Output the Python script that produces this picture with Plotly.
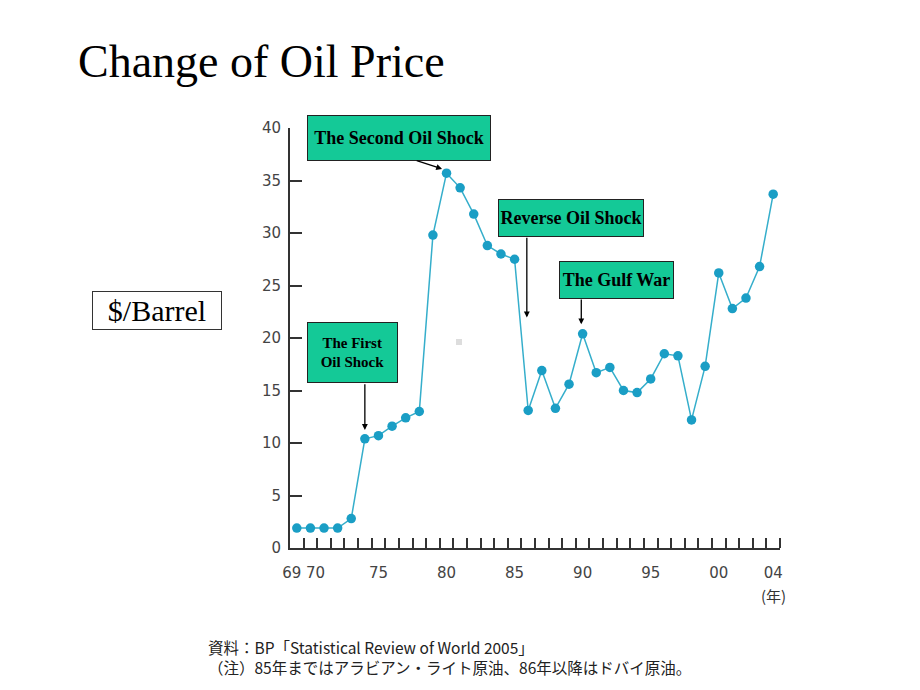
import plotly.graph_objects as go

# ---------------- data ----------------
years = list(range(1969, 2005))
prices = [1.9, 1.9, 1.9, 1.9, 2.8, 10.4, 10.7, 11.6, 12.4, 13.0,
          29.8, 35.7, 34.3, 31.8, 28.8, 28.0, 27.5, 13.1, 16.9, 13.3,
          15.6, 20.4, 16.7, 17.2, 15.0, 14.8, 16.1, 18.5, 18.3, 12.2,
          17.3, 26.2, 22.8, 23.8, 26.8, 33.7]

# "69" and "70" share one label between the two years, as in the source
x_tick_pos = [1969.5, 1975, 1980, 1985, 1990, 1995, 2000, 2004]
x_tick_labels = ["69 70", "75", "80", "85", "90", "95", "00", "04"]
y_tick_values = [0, 5, 10, 15, 20, 25, 30, 35, 40]

event_labels = ["The First<br>Oil Shock", "The Second Oil Shock",
                "Reverse Oil Shock", "The Gulf War"]
event_years = [1974, 1980, 1986, 1990]

title_text = "Change of Oil Price"
unit_text = "$/Barrel"
year_unit = "(年)"
source_lines = ["資料：BP「Statistical Review of World 2005」",
                "（注）85年まではアラビアン・ライト原油、86年以降はドバイ原油。"]

# ---------------- layout helpers ----------------
W, H = 920, 690
OFF = 8                            # page body margin
L, R, T, B = 290, 780, 128, 548    # plot area in reference pixels


def px(x):
    return (x - L) / (R - L)


def py(y):
    return (B - y) / (B - T)


LINE_COLOR = "#35AECB"
MARK_COLOR = "#1A9EC5"
BOX_COLOR = "#14C997"

fig = go.Figure()
fig.add_trace(go.Scatter(
    x=years, y=prices, mode="lines+markers",
    line=dict(color=LINE_COLOR, width=1.5),
    marker=dict(color=MARK_COLOR, size=9.5, line=dict(width=0)),
    hoverinfo="x+y", showlegend=False,
))

annotations = []

# event boxes (pixel geometry: center x, center y, width, height, font size)
box_geom = [(352.5, 352.5, 91, 61, 15),
            (399, 138, 184, 46, 18),
            (571, 218, 146, 38, 18),
            (616.5, 280, 115, 38, 18)]
for label, (cx, cy, bw, bh, fs) in zip(event_labels, box_geom):
    annotations.append(dict(
        xref="paper", yref="paper", x=px(cx), y=py(cy),
        xanchor="center", yanchor="middle", showarrow=False,
        text="<b>" + label + "</b>",
        font=dict(family="Liberation Serif", size=fs, color="black"),
        bgcolor=BOX_COLOR, bordercolor="#222", borderwidth=1, borderpad=0,
        width=bw - 2, height=bh - 2, align="center", valign="middle",
    ))

# arrows: (head dx from event year, head y, tail x, tail y)
idx = {y: i for i, y in enumerate(years)}
arrow_geom = [
    (0.0, prices[idx[1974]] + 0.85, 1974.0, 15.75),
    (-0.33, prices[idx[1980]] + 0.4, 1977.7, 36.95),
    (-0.1, 21.96, 1985.9, 29.7),
    (-0.1, prices[idx[1990]] + 0.9, 1989.9, 23.8),
]
for yr, (dx, hy, tx, ty) in zip(event_years, arrow_geom):
    annotations.append(dict(
        xref="x", yref="y", x=yr + dx, y=hy,
        axref="x", ayref="y", ax=tx, ay=ty,
        text="", showarrow=True, arrowhead=2, arrowsize=0.9,
        arrowwidth=1.3, arrowcolor="black", standoff=0, startstandoff=0,
    ))

# title
annotations.append(dict(
    xref="paper", yref="paper", x=px(76), y=py(62),
    xanchor="left", yanchor="middle", showarrow=False, text=title_text,
    font=dict(family="Liberation Serif", size=46, color="black"),
))

# unit box
annotations.append(dict(
    xref="paper", yref="paper", x=px(157), y=py(310.5),
    xanchor="center", yanchor="middle", showarrow=False, text=unit_text,
    font=dict(family="Liberation Serif", size=30, color="black"),
    bgcolor="white", bordercolor="#333", borderwidth=1, borderpad=0,
    width=128, height=37,
))

# year unit
annotations.append(dict(
    xref="paper", yref="paper", x=px(773), y=py(595),
    xanchor="center", yanchor="middle", showarrow=False, text=year_unit,
    font=dict(family="Noto Sans CJK JP", size=15, color="#333"),
))

# source note (two lines in one block)
annotations.append(dict(
    xref="paper", yref="paper", x=px(206), y=py(657),
    xanchor="left", yanchor="middle", showarrow=False,
    text="<br>".join(source_lines), align="left",
    font=dict(family="Noto Sans CJK JP", size=15.5, color="#222"),
))

fig.update_layout(
    width=W, height=H,
    margin=dict(l=L - OFF, r=W - R + OFF, t=T - OFF, b=H - B + OFF,
                autoexpand=False),
    paper_bgcolor="white", plot_bgcolor="white",
    annotations=annotations,
    shapes=[dict(type="rect", xref="paper", yref="paper",
                 x0=px(456), x1=px(462), y0=py(345), y1=py(339),
                 fillcolor="#dddddd", line=dict(width=0))],
    xaxis=dict(
        range=[1968.5, 2004.5], showgrid=False, zeroline=False,
        showline=True, linecolor="#333", linewidth=2,
        tickmode="array", tickvals=x_tick_pos, ticktext=x_tick_labels,
        ticks="", ticklabelstandoff=10, tickangle=0,
        tickfont=dict(family="DejaVu Sans", size=15, color="#444"),
        minor=dict(tickmode="array",
                   tickvals=[y + 0.5 for y in years],
                   ticks="inside", ticklen=10, tickwidth=1.5,
                   tickcolor="#333", showgrid=False),
    ),
    yaxis=dict(
        range=[0, 40], showgrid=False, zeroline=False,
        showline=True, linecolor="#333", linewidth=2,
        tickmode="array", tickvals=y_tick_values,
        ticks="inside", ticklen=12, tickwidth=1.5, tickcolor="#333",
        ticklabelstandoff=4,
        tickfont=dict(family="DejaVu Sans", size=15, color="#444"),
    ),
)

fig.write_html("out.html")
